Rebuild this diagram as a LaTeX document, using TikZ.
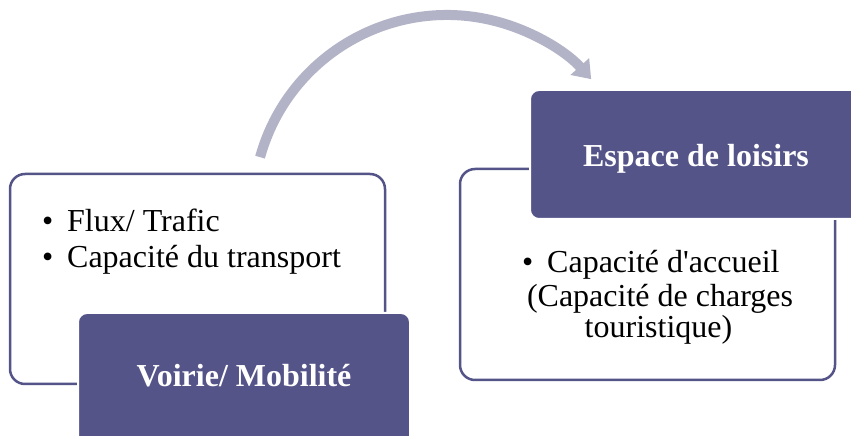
\documentclass[tikz,border=0pt]{standalone}
\usepackage{fontspec}
\setmainfont{Liberation Serif}
\usetikzlibrary{arrows.meta,calc}
\definecolor{darkp}{RGB}{84,84,137}
\definecolor{arrowc}{RGB}{179,179,200}
\begin{document}
\begin{tikzpicture}[x=1pt,y=1pt,
  outline/.style={draw=darkp, line width=2.5pt, fill=white, rounded corners=15pt, inner sep=0pt},
  titlebox/.style={draw=white, line width=2pt, fill=darkp, rounded corners=9pt, inner sep=0pt},
  bodytext/.style={font=\fontsize{32}{36}\selectfont, inner sep=0pt, text=black},
  titletext/.style={font=\fontsize{32}{36}\selectfont\bfseries, inner sep=0pt, text=white, anchor=base},
  flowarrow/.style={draw=arrowc, line width=10pt, -{Triangle[length=17pt,width=24pt]}}]
\useasboundingbox (0,0) rectangle (851,436);
\clip (0,0) rectangle (851,436);
\fill[white] (0,0) rectangle (851,436);
% left group
\node[outline, minimum width=375pt, minimum height=210pt] (leftbox) at (197.5,157) {};
\node[titlebox, minimum width=332pt, minimum height=134pt] (lefttitle) at (244,56) {};
\node[bodytext, anchor=base west] (l1) at (42,204) {\makebox[25pt][l]{\textbullet}Flux/ Trafic};
\node[bodytext, anchor=base west] (l2) at (42,168) {\makebox[25pt][l]{\textbullet}Capacité du transport};
\node[titletext] (lt) at (244,49) {Voirie/ Mobilité};
% right group
\node[outline, minimum width=375pt, minimum height=211pt] (rightbox) at (647.5,161.5) {};
\node[titlebox, minimum width=332pt, minimum height=129pt] (righttitle) at (696,281.5) {};
\node[titletext] (rt) at (696,269) {Espace de loisirs};
\node[bodytext, anchor=base west] (r1) at (522,163) {\makebox[25pt][l]{\textbullet}Capacité d\textquotesingle accueil};
\node[bodytext, anchor=base] (r2) at (660,129) {(Capacité de charges};
\node[bodytext, anchor=base] (r3) at (658.5,98) {touristique)};
% arrow
\coordinate (arcc) at (447,227);
\coordinate (arcstart) at ($(arcc)+(164.5:194)$);
\draw[flowarrow] (arcstart) arc[start angle=164.5, end angle=42, radius=194];
\end{tikzpicture}
\end{document}
